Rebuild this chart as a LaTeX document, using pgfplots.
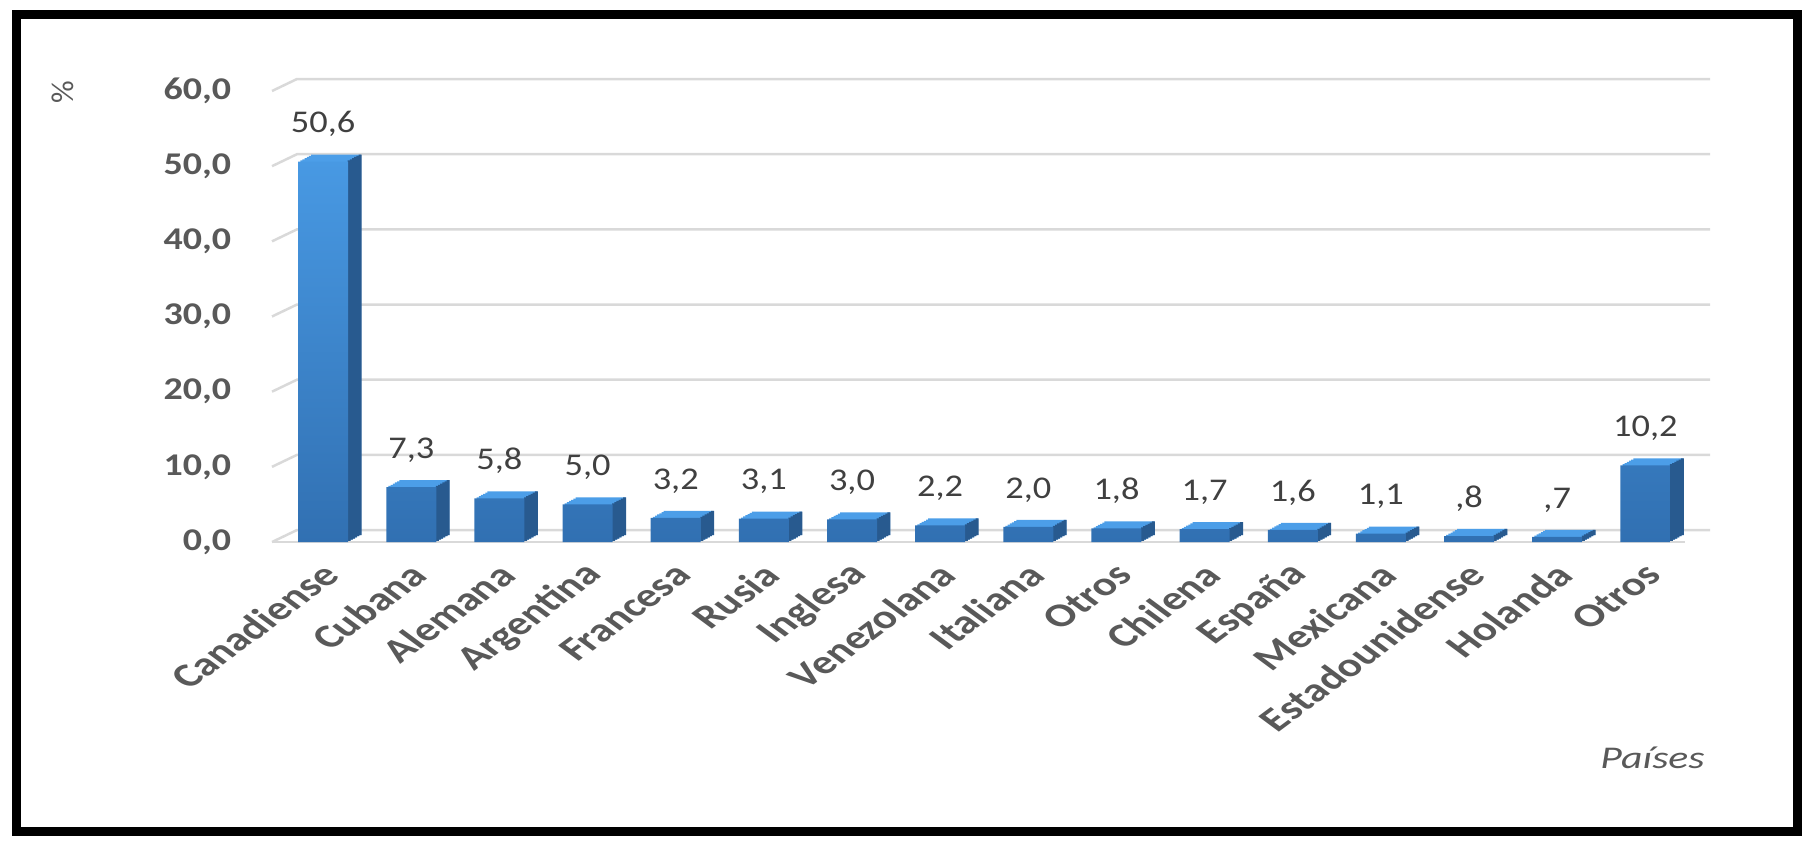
\documentclass[border=0pt]{standalone}
\usepackage{pgfplots}
\pgfplotsset{compat=1.18}
\usepackage{pgfplotstable}
\usepackage{fontspec}
\setmainfont{Carlito}

\definecolor{frontT}{HTML}{4899E3}
\definecolor{frontB}{HTML}{3170B2}
\definecolor{sidec}{HTML}{285A8F}
\definecolor{topc}{HTML}{4C9EE8}
\definecolor{gridc}{HTML}{D9D9D9}
\definecolor{axgray}{HTML}{595959}
\definecolor{labgray}{HTML}{404040}
\newcommand\lbl{\fontsize{9}{11}\selectfont}
\newcommand\cat{\fontsize{9.5}{11}\selectfont}

% x = posicion, y = porcentaje, lab = etiqueta
\pgfplotstableread{
x y lab
0 50.6 50,6
1 7.3 7,3
2 5.8 5,8
3 5.0 5,0
4 3.2 3,2
5 3.1 3,1
6 3.0 3,0
7 2.2 2,2
8 2.0 2,0
9 1.8 1,8
10 1.7 1,7
11 1.6 1,6
12 1.1 1,1
13 0.8 ,8
14 0.7 ,7
15 10.2 10,2
}\datos

\begin{document}
\begin{tikzpicture}[x=1mm,y=1mm]
\path[use as bounding box] (0,0) rectangle (180.6,84.2);
\draw[line width=0.9mm] (1.6,1.1) rectangle (179.7,82.8);
\begin{axis}[
  at={(27.2mm,30.0mm)}, anchor=south west,
  scale only axis, width=141.3mm, height=45.1mm,
  xmin=-0.58, xmax=15.45, ymin=0, ymax=60,
  axis line style={draw=none}, major tick length=0,
  clip=false,
  ytick={0,10,...,60},
  xtick={0,...,15},
  xticklabels={Canadiense,Cubana,Alemana,Argentina,Francesa,Rusia,Inglesa,Venezolana,Italiana,Otros,Chilena,España,Mexicana,Estadounidense,Holanda,Otros},
  yticklabel style={font=\lbl\bfseries, text=axgray, inner sep=0pt, xshift=-4mm, xscale=1.2, anchor=east,
    /pgf/number format/.cd, fixed, fixed zerofill, precision=1, use comma, assume math mode=true},
  xticklabel style={font=\cat\bfseries, text=axgray, inner sep=0pt, xshift=0.8mm, yshift=-2.7mm, xscale=1.35, rotate=45, anchor=east},
  xlabel={Países},
  xlabel style={at={(axis description cs:0.977,-0.479)}, anchor=center, font=\lbl\itshape, text=axgray, xscale=1.32},
  ylabel={\%},
  ylabel style={at={(axis description cs:-0.148,0.998)}, anchor=center, font=\lbl, text=axgray},
]
% rejilla en perspectiva
\pgfplotsinvokeforeach{0,10,...,60}{
  \draw[gridc, line width=0.25mm] (axis cs:-0.58,#1) -- ++(2.5mm,1.2mm) -- ([shift={(2.5mm,1.2mm)}]axis cs:15.45,#1);
}
\draw[gridc, line width=0.25mm] (axis cs:-0.58,0) -- (axis cs:15.45,0);
% cara superior
\pgfplotsinvokeforeach{1,...,6}{
  \addplot[ybar, bar width=5mm, bar shift={#1*0.2167mm}, yshift={#1*0.1167mm}, draw=none, fill=topc] table[x=x,y=y]{\datos};
}
% cara lateral
\pgfplotsinvokeforeach{1,...,6}{
  \addplot[ybar, bar width=0.3mm, bar shift={2.5mm+(#1-0.5)*0.2167mm}, yshift={#1*0.1167mm}, draw=none, fill=sidec] table[x=x,y=y]{\datos};
}
% cara frontal
\addplot[ybar, bar width=5mm, bar shift=0pt, draw=none, top color=frontT, bottom color=frontB,
  nodes near coords, point meta=explicit symbolic,
  nodes near coords style={font=\lbl, text=labgray, inner sep=0pt, anchor=south, yshift=2.4mm, xscale=1.15}]
  table[x=x,y=y,meta=lab]{\datos};
\end{axis}
\end{tikzpicture}
\end{document}
